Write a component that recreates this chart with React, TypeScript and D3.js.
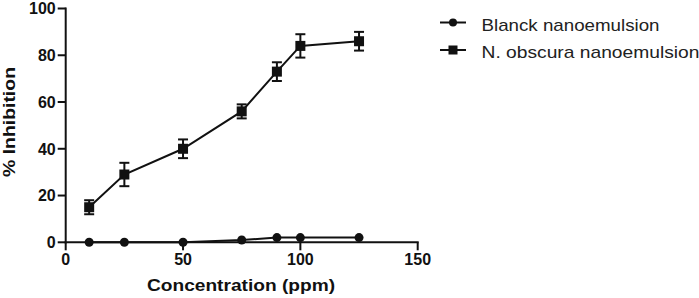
import React from "react";
import * as d3 from "d3";

const concentrations = [10, 25, 50, 75, 90, 100, 125];
const blanckValues = [0, 0, 0, 1, 2, 2, 2];
const obscuraValues = [15, 29, 40, 56, 73, 84, 86];
const obscuraErrors = [3, 5, 4, 3, 4, 5, 4];
const xTicks = [0, 50, 100, 150];
const yTicks = [0, 20, 40, 60, 80, 100];
const seriesNames = ["Blanck nanoemulsion", "N. obscura nanoemulsion"];
const legendWidths = [178, 218];

const W = 699;
const H = 298;

export default function App() {
  const x = d3.scaleLinear().domain([0, 150]).range([65.7, 417.7]);
  const y = d3.scaleLinear().domain([0, 100]).range([242.3, 8.5]);
  const line = d3
    .line<number>()
    .x((_, i) => x(concentrations[i]))
    .y((d) => y(d));
  const font = "'Liberation Sans', Arial, sans-serif";
  const col = "#111";
  return (
    <svg
      width={W}
      height={H}
      style={{ position: "absolute", left: 0, top: 0, background: "#fff" }}
    >
      {/* axes */}
      <line x1={x(0)} x2={x(0)} y1={y(0) + 1} y2={y(100) - 1} stroke={col} strokeWidth={2} />
      <line x1={x(0) - 1} x2={x(150) + 1} y1={y(0)} y2={y(0)} stroke={col} strokeWidth={2} />
      {yTicks.map((t) => (
        <g key={"y" + t}>
          <line x1={x(0) - 8} x2={x(0)} y1={y(t)} y2={y(t)} stroke={col} strokeWidth={2} />
          <text
            x={x(0) - 10}
            y={y(t)}
            dy="0.36em"
            textAnchor="end"
            fontFamily={font}
            fontWeight="bold"
            fontSize={16}
            fill={col}
          >
            {t}
          </text>
        </g>
      ))}
      {xTicks.map((t) => (
        <g key={"x" + t}>
          <line x1={x(t)} x2={x(t)} y1={y(0)} y2={y(0) + 8} stroke={col} strokeWidth={2} />
          <text
            x={x(t)}
            y={265}
            textAnchor="middle"
            fontFamily={font}
            fontWeight="bold"
            fontSize={16}
            fill={col}
          >
            {t}
          </text>
        </g>
      ))}
      <text
        x={241}
        y={291}
        textAnchor="middle"
        fontFamily={font}
        fontWeight="bold"
        fontSize={17}
        textLength={188}
        lengthAdjust="spacingAndGlyphs"
        fill={col}
      >
        Concentration (ppm)
      </text>
      <text
        transform={`translate(15,${122}) rotate(-90)`}
        textAnchor="middle"
        fontFamily={font}
        fontWeight="bold"
        fontSize={17}
        textLength={110}
        lengthAdjust="spacingAndGlyphs"
        fill={col}
      >
        % Inhibition
      </text>

      {/* Blanck series */}
      <path d={line(blanckValues) || ""} fill="none" stroke={col} strokeWidth={2} />
      {blanckValues.map((v, i) => (
        <circle key={"b" + i} cx={x(concentrations[i])} cy={y(v)} r={4.5} fill={col} />
      ))}

      {/* N. obscura series */}
      <path d={line(obscuraValues) || ""} fill="none" stroke={col} strokeWidth={2} />
      {obscuraValues.map((v, i) => {
        const cx = x(concentrations[i]);
        const top = y(v + obscuraErrors[i]);
        const bot = y(v - obscuraErrors[i]);
        return (
          <g key={"o" + i}>
            <line x1={cx} x2={cx} y1={top} y2={bot} stroke={col} strokeWidth={2} />
            <line x1={cx - 5} x2={cx + 5} y1={top} y2={top} stroke={col} strokeWidth={2} />
            <line x1={cx - 5} x2={cx + 5} y1={bot} y2={bot} stroke={col} strokeWidth={2} />
            <rect x={cx - 5} y={y(v) - 5} width={10} height={10} fill={col} />
          </g>
        );
      })}

      {/* legend */}
      {seriesNames.map((name, i) => {
        const ly = 22.5 + i * 27.5;
        return (
          <g key={"l" + i}>
            <line x1={440} x2={466} y1={ly} y2={ly} stroke={col} strokeWidth={2} />
            {i === 0 ? (
              <circle cx={453} cy={ly} r={4} fill={col} />
            ) : (
              <rect x={448.5} y={ly - 4.5} width={9} height={9} fill={col} />
            )}
            <text
              x={481.5}
              y={ly + 8}
              fontFamily={font}
              fontSize={17}
              textLength={legendWidths[i]}
              lengthAdjust="spacingAndGlyphs"
              fill="#222"
            >
              {name}
            </text>
          </g>
        );
      })}
    </svg>
  );
}
